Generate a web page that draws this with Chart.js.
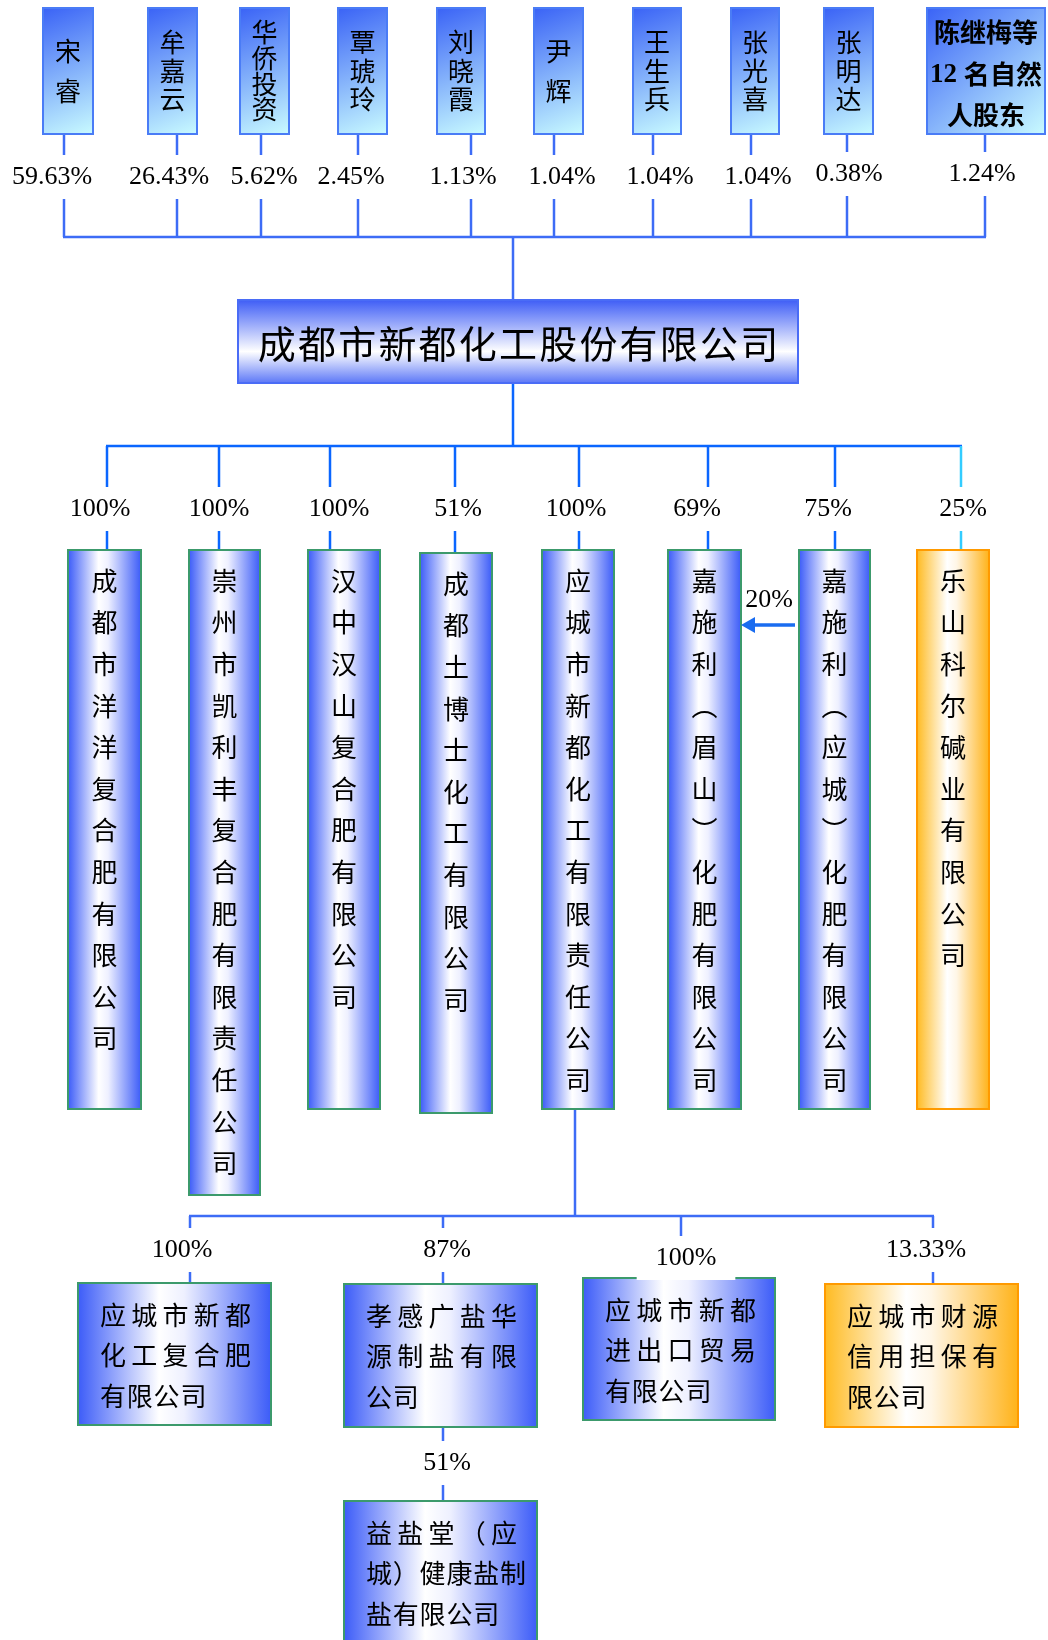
<!DOCTYPE html>
<html>
<head>
<meta charset="utf-8">
<script src="https://cdn.jsdelivr.net/npm/chart.js@4.4.1/dist/chart.umd.min.js"></script>
<style>
html, body { margin: 0; padding: 0; background: #fff; }
#wrap { width: 1048px; height: 1640px; position: relative; }
</style>
</head>
<body>
<div id="wrap"><canvas id="orgChart"></canvas></div>
<script>
// 股东 (shareholders) and their stakes
var holders = ['宋睿', '牟嘉云', '华侨投资', '覃琥玲', '刘晓霞', '尹辉', '王生兵', '张光喜', '张明达', '陈继梅等12名自然人股东'];
var holderPct = ['59.63%', '26.43%', '5.62%', '2.45%', '1.13%', '1.04%', '1.04%', '1.04%', '0.38%', '1.24%'];

var parentName = '成都市新都化工股份有限公司';

// 子公司
var subs = ['成都市洋洋复合肥有限公司', '崇州市凯利丰复合肥有限责任公司', '汉中汉山复合肥有限公司', '成都土博士化工有限公司',
    '应城市新都化工有限责任公司', '嘉施利（眉山）化肥有限公司', '嘉施利（应城）化肥有限公司', '乐山科尔碱业有限公司'];
var subPct = ['100%', '100%', '100%', '51%', '100%', '69%', '75%', '25%'];
var crossPct = '20%'; // 嘉施利（应城） -> 嘉施利（眉山）

// 应城市新都化工有限责任公司 的子公司
var yingSubs = ['应城市新都化工复合肥有限公司', '孝感广盐华源制盐有限公司', '应城市新都进出口贸易有限公司', '应城市财源信用担保有限公司'];
var yingPct = ['100%', '87%', '100%', '13.33%'];

// 孝感广盐华源 的子公司
var saltSub = '益盐堂（应城）健康盐制盐有限公司';
var saltPct = '51%';

// ---- layout (page units, y grows downward) ----
var topBoxL = [43, 148, 240, 338, 437, 534, 633, 731, 824, 927];
var topBoxR = [93, 197, 289, 387, 485, 583, 681, 779, 873, 1045];
var topLineX = [64, 177, 261, 358, 471, 554, 653, 751, 847, 985];
var topPctX = [52, 169, 264, 351, 463, 562, 660, 758, 849, 982];
var topPctY = [177, 177, 177, 177, 177, 177, 177, 177, 174, 174];

var subBoxL = [68, 189, 308, 420, 542, 668, 799, 917];
var subBoxR = [141, 260, 380, 492, 614, 741, 870, 989];
var subBoxT = [550, 550, 550, 553, 550, 550, 550, 550];
var subBoxB = [1109, 1195, 1109, 1113, 1109, 1109, 1109, 1109];
var subLineX = [107, 219, 330, 455, 579, 708, 835, 961];
var subPctX = [100, 219, 339, 458, 576, 697, 828, 963];

var ySubL = [78, 344, 583, 825];
var ySubR = [271, 537, 775, 1018];
var ySubT = [1283, 1284, 1278, 1284];
var ySubB = [1425, 1427, 1420, 1427];
var ySubLineX = [190, 443, 681, 933];
var ySubPctX = [182, 447, 686, 926];
var ySubPctY = [1250, 1250, 1258, 1250];
var ySubWrap = [[5, 5, 4], [5, 5, 2], [5, 5, 4], [5, 5, 3]];

var CJK = '"Noto Sans CJK SC", "Noto Sans", sans-serif';
var SERIF = '"Liberation Serif", "DejaVu Serif", serif';

function splitLines(str, counts) {
    var chars = Array.from(str), out = [], p = 0;
    counts.forEach(function (n) { out.push(chars.slice(p, p + n)); p += n; });
    return out;
}

var orgPlugin = {
    id: 'orgPlugin',
    afterDraw: function (chart) {
        var ctx = chart.ctx;
        var sx = chart.scales.x, sy = chart.scales.y;
        function X(v) { return sx.getPixelForValue(v); }
        function Y(v) { return sy.getPixelForValue(v); }

        function seg(x1, y1, x2, y2, color, w) {
            ctx.save();
            ctx.strokeStyle = color;
            ctx.lineWidth = w;
            ctx.beginPath();
            ctx.moveTo(X(x1), Y(y1));
            ctx.lineTo(X(x2), Y(y2));
            ctx.stroke();
            ctx.restore();
        }

        function box(l, t, r, b, kind) {
            var x0 = X(l), y0 = Y(t), x1 = X(r), y1 = Y(b), g, border;
            if (kind === 'diag') {
                g = ctx.createLinearGradient(x0, y0, x1, y1);
                g.addColorStop(0, '#3a63f6');
                g.addColorStop(1, '#c9fbff');
                border = '#4a7cf6';
            } else if (kind === 'main') {
                g = ctx.createLinearGradient(0, y0, 0, y1);
                g.addColorStop(0, '#3f5ef6');
                g.addColorStop(0.62, '#ffffff');
                g.addColorStop(1, '#5d78f7');
                border = '#4a6cf6';
            } else if (kind === 'orange') {
                g = ctx.createLinearGradient(x0, 0, x1, 0);
                g.addColorStop(0, '#ffbb22');
                g.addColorStop(0.42, '#ffffff');
                g.addColorStop(0.55, '#fff6e6');
                g.addColorStop(1, '#ffb31a');
                border = '#ff9a00';
            } else {
                g = ctx.createLinearGradient(x0, 0, x1, 0);
                g.addColorStop(0, '#3c5cf8');
                g.addColorStop(0.42, '#ffffff');
                g.addColorStop(0.55, '#eef0ff');
                g.addColorStop(1, '#3c5cf8');
                border = '#3c9a6c';
            }
            ctx.save();
            ctx.fillStyle = g;
            ctx.fillRect(x0, y0, x1 - x0, y1 - y0);
            ctx.strokeStyle = border;
            ctx.lineWidth = 2;
            ctx.strokeRect(x0, y0, x1 - x0, y1 - y0);
            ctx.restore();
        }

        function label(text, x, y, bg) {
            ctx.save();
            ctx.font = '26px ' + SERIF;
            ctx.textAlign = 'center';
            ctx.textBaseline = 'middle';
            if (bg) {
                var w = ctx.measureText(text).width + 38;
                ctx.fillStyle = '#ffffff';
                ctx.fillRect(X(x) - w / 2, Y(y) - 22, w, 44);
            }
            ctx.fillStyle = '#000';
            ctx.fillText(text, X(x), Y(y));
            ctx.restore();
        }

        function glyph(ch, x, y, font) {
            ctx.save();
            ctx.font = font;
            ctx.textAlign = 'center';
            ctx.textBaseline = 'middle';
            ctx.fillStyle = '#000';
            ctx.fillText(ch, X(x), Y(y));
            ctx.restore();
        }

        // ---------- connector lines ----------
        var topBlue = '#3d6cf6', subBlue = '#0a66ff';
        holders.forEach(function (h, i) { seg(topLineX[i], 134, topLineX[i], 237, topBlue, 2.5); });
        seg(topLineX[0] - 1, 237, topLineX[topLineX.length - 1] + 1, 237, topBlue, 2.5);
        seg(513, 237, 513, 300, topBlue, 2.5);

        seg(513, 383, 513, 446, subBlue, 2.5);
        seg(subLineX[0] - 1, 446, subLineX[subLineX.length - 1] + 1, 446, subBlue, 2.5);
        subs.forEach(function (s, i) {
            seg(subLineX[i], 446, subLineX[i], subBoxT[i], i === subs.length - 1 ? '#33ccff' : subBlue, 2.5);
        });

        seg(575, 1109, 575, 1216, topBlue, 2.5);
        seg(ySubLineX[0] - 1, 1216, ySubLineX[ySubLineX.length - 1] + 1, 1216, topBlue, 2.5);
        yingSubs.forEach(function (s, i) { seg(ySubLineX[i], 1216, ySubLineX[i], ySubT[i], topBlue, 2.5); });

        seg(443, 1427, 443, 1501, topBlue, 2.5);

        // ---------- shareholder boxes ----------
        holders.forEach(function (name, i) {
            box(topBoxL[i], 8, topBoxR[i], 134, 'diag');
            var cx = (topBoxL[i] + topBoxR[i]) / 2;
            if (i < holders.length - 1) {
                var chars = Array.from(name), n = chars.length;
                var step = n === 2 ? 40 : (n === 3 ? 28.5 : 25.7);
                chars.forEach(function (ch, k) {
                    glyph(ch, cx, 71 + (k - (n - 1) / 2) * step, '26px ' + CJK);
                });
            } else {
                var parts = splitLines(name, [4, 5, 3]);
                glyph(parts[0].join(''), cx, 32, 'bold 26px ' + CJK);
                // second line: "12" in serif + 名自然
                ctx.save();
                ctx.textBaseline = 'middle';
                ctx.fillStyle = '#000';
                ctx.font = 'bold 27px ' + SERIF;
                var num = parts[1].slice(0, 2).join('');
                var rest = parts[1].slice(2).join('');
                var w1 = ctx.measureText(num + ' ').width;
                ctx.font = 'bold 26px ' + CJK;
                var w2 = ctx.measureText(rest).width;
                var sxp = X(cx) - (w1 + w2) / 2;
                ctx.font = 'bold 27px ' + SERIF;
                ctx.fillText(num, sxp, Y(75));
                ctx.font = 'bold 26px ' + CJK;
                ctx.fillText(rest, sxp + w1, Y(74));
                ctx.restore();
                glyph(parts[2].join(''), cx, 115, 'bold 26px ' + CJK);
            }
            label(holderPct[i], topPctX[i], topPctY[i], true);
        });

        // ---------- parent company ----------
        box(238, 300, 798, 383, 'main');
        var pc = Array.from(parentName), adv = 40.2;
        var start = 518 - (pc.length - 1) * adv / 2;
        pc.forEach(function (ch, k) { glyph(ch, start + k * adv, 344, '38px ' + CJK); });

        // ---------- subsidiaries (vertical text) ----------
        subs.forEach(function (name, i) {
            box(subBoxL[i], subBoxT[i], subBoxR[i], subBoxB[i], i === subs.length - 1 ? 'orange' : 'blue');
            var cx = (subBoxL[i] + subBoxR[i]) / 2;
            Array.from(name).forEach(function (ch, k) {
                var c = ch === '（' ? '︵' : (ch === '）' ? '︶' : ch);
                glyph(c, cx, subBoxT[i] + 31 + k * 41.6, '26px ' + CJK);
            });
            label(subPct[i], subPctX[i], 509, true);
        });

        // cross holding arrow 嘉施利（应城） -> 嘉施利（眉山）
        seg(795, 625, 752, 625, '#1a6cf0', 3.5);
        ctx.save();
        ctx.fillStyle = '#1a6cf0';
        ctx.beginPath();
        ctx.moveTo(X(741), Y(625));
        ctx.lineTo(X(755), Y(617));
        ctx.lineTo(X(755), Y(633));
        ctx.closePath();
        ctx.fill();
        ctx.restore();
        label(crossPct, 769, 600, false);

        // ---------- 应城 subsidiaries ----------
        function blockText(lines, l, t) {
            lines.forEach(function (chars, li) {
                var last = li === lines.length - 1;
                var step = (!last && chars.length <= 5) ? 31.25 : 26.8;
                chars.forEach(function (ch, k) {
                    glyph(ch, l + 22 + 13 + k * step, t + 32 + li * 40.5, '26px ' + CJK);
                });
            });
        }
        yingSubs.forEach(function (name, i) {
            box(ySubL[i], ySubT[i], ySubR[i], ySubB[i], i === yingSubs.length - 1 ? 'orange' : 'blue');
            blockText(splitLines(name, ySubWrap[i]), ySubL[i], ySubT[i]);
        });
        yingSubs.forEach(function (name, i) { label(yingPct[i], ySubPctX[i], ySubPctY[i], true); });

        // ---------- 益盐堂 ----------
        box(344, 1501, 537, 1662, 'blue');
        blockText(splitLines(saltSub, [5, 6, 5]), 344, 1501);
        label(saltPct, 447, 1463, true);
    }
};

var orgChart = new Chart(document.getElementById('orgChart').getContext('2d'), {
    type: 'scatter',
    data: { datasets: [{ data: [], pointRadius: 0 }] },
    options: {
        responsive: true,
        maintainAspectRatio: false,
        animation: false,
        layout: { padding: 0 },
        plugins: { legend: { display: false }, tooltip: { enabled: false } },
        scales: {
            x: { type: 'linear', min: 0, max: 1048, display: false },
            y: { type: 'linear', min: 0, max: 1640, reverse: true, display: false }
        }
    },
    plugins: [orgPlugin]
});
</script>
</body>
</html>
